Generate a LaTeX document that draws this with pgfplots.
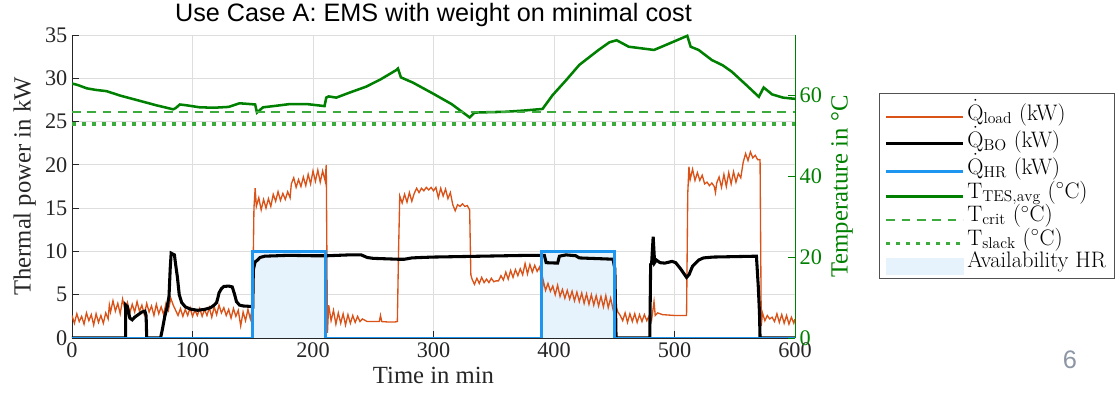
\documentclass[border=0pt]{standalone}
\usepackage{fontspec}
\usepackage{pgfplots}
\pgfplotsset{compat=1.18}
\newfontfamily\timesf{Liberation Serif}
\newfontfamily\arialf{Liberation Sans}
\definecolor{cload}{RGB}{217,83,25}
\definecolor{chr}{RGB}{30,150,240}
\definecolor{chrfill}{RGB}{230,242,252}
\definecolor{ctes}{RGB}{0,128,0}
\definecolor{clim}{RGB}{60,170,60}
\definecolor{caxis}{RGB}{38,38,38}
\definecolor{cgrid}{RGB}{222,222,222}
\definecolor{cnum}{RGB}{140,150,165}

\pgfplotstableread{
t q
0 2.6
2 1.7
4 2.8
6 1.9
8 2.5
10 1.6
12 2.9
14 2.0
16 2.7
18 1.5
20 2.8
22 1.8
24 2.6
26 1.7
28 2.9
30 2.2
31 3.8
32 3.0
34 4.3
36 3.1
38 4.0
40 2.8
42 4.5
44 3.2
46 4.1
48 2.9
50 3.9
52 3.0
54 4.2
56 3.1
58 3.8
60 2.7
62 4.0
64 3.0
66 3.7
68 2.6
70 3.9
72 2.8
74 3.6
76 2.7
78 4.0
80 3.2
82 4.6
84 3.8
86 3.2
88 2.6
90 3.4
92 2.5
94 3.3
96 2.6
98 3.5
100 2.5
102 3.2
104 2.6
106 3.4
108 2.5
110 3.3
112 2.6
114 3.5
116 2.4
118 3.6
120 2.7
122 3.8
124 2.9
126 3.5
128 2.6
130 3.3
132 2.3
134 3.4
136 2.5
138 3.2
140 1.4
142 3.0
144 2.0
146 3.3
148 2.2
149 3.0
150 5.0
151 15.0
152 17.3
153 15.2
155 16.2
157 14.8
159 16.0
161 15.0
163 16.1
165 15.2
167 16.6
169 15.8
171 16.9
173 15.9
175 16.7
177 16.0
179 16.9
181 16.2
182 17.8
184 18.5
186 17.4
188 18.3
190 17.5
192 18.6
194 17.6
196 18.9
198 17.8
200 19.3
202 18.1
204 19.4
206 18.0
208 19.3
210 18.2
211 20.0
212 0.6
213 3.8
215 2.0
217 3.2
219 1.6
221 2.9
223 1.7
225 2.8
227 1.5
229 2.7
231 1.7
233 2.6
235 1.8
237 2.5
239 1.9
241 2.2
245 1.9
250 1.9
255 1.9
256 2.6
257 1.9
262 1.85
268 1.85
270 1.9
271 10.0
272 16.4
274 15.6
276 16.6
278 15.7
280 16.8
282 15.8
284 16.7
286 17.3
288 16.8
290 17.3
292 17.0
294 17.4
296 17.1
298 17.4
300 17.0
302 17.4
304 16.2
306 17.3
308 16.4
310 17.2
312 16.1
314 16.8
316 15.4
318 14.7
320 15.4
322 15.2
324 15.5
326 15.2
328 15.3
330 14.8
331 7.3
332 6.8
334 6.2
336 6.9
338 6.3
340 7.0
342 6.4
344 6.8
346 6.4
348 6.9
350 6.5
352 6.6
354 6.6
356 7.2
358 6.7
360 7.6
362 6.8
364 7.8
366 7.0
368 7.9
370 7.2
372 8.0
374 7.3
376 8.6
378 7.4
380 8.5
382 7.6
384 8.4
386 7.7
388 8.2
389 7.5
390 5.0
391 6.7
393 5.5
395 6.3
397 5.4
399 6.0
401 5.0
403 6.1
405 4.8
407 5.6
409 4.6
411 5.5
413 4.5
415 5.4
417 4.3
419 5.3
421 4.2
423 5.2
425 4.0
427 5.1
429 3.9
431 5.0
433 3.8
435 4.9
437 3.7
439 4.8
441 3.6
443 4.9
445 3.5
447 4.6
449 3.3
451 3.9
453 3.0
455 2.6
457 2.0
459 2.9
461 1.8
463 2.8
465 1.9
467 2.8
469 1.8
471 2.7
473 1.9
475 2.7
477 2.0
479 2.6
481 2.1
483 4.2
484 2.6
486 2.9
490 2.7
495 2.65
500 2.6
505 2.6
510 2.6
511 16.7
512 19.8
513 18.3
515 19.5
517 18.2
519 19.1
521 18.2
523 18.8
525 17.8
527 18.0
529 17.6
531 17.9
533 17.5
534 16.8
535 17.9
537 18.6
539 17.4
541 18.9
543 17.5
545 19.1
547 17.8
549 19.2
551 18.0
553 19.0
555 18.5
557 20.3
559 21.3
561 20.5
563 21.5
565 20.8
567 21.1
569 20.6
571 20.6
572 1.4
573 2.9
575 2.0
577 2.6
579 2.2
581 2.4
583 1.9
585 2.8
587 1.8
589 2.7
591 1.7
593 2.6
595 1.6
597 2.4
599 1.7
600 2.2
}\loadtab

\pgfplotstableread{
t q
0 0
44.5 0
44.6 3.8
46 3.6
48 2.3
50 2.1
52 2.4
55 2.7
58 3.0
60.5 3.1
61.5 2.6
62 0
73.5 0
75 1.0
77 2.5
79 3.6
80.5 4.8
81.5 8.0
82.3 9.8
85 9.6
86 8.5
87.5 7.0
89 5.0
91 4.1
94 3.6
98 3.35
104 3.2
110 3.3
115 3.5
118 3.8
120 4.1
121 4.6
122 5.2
124 5.7
126 5.95
130 6.0
133 5.9
135 5.0
136.5 4.2
139 3.8
142 3.7
148 3.65
150 3.6
150.5 7.9
152 8.8
154 9.0
156 9.3
160 9.45
170 9.5
180 9.55
200 9.5
212 9.5
230 9.6
240 9.6
245 9.3
250 9.2
260 9.15
270 9.1
276 9.1
282 9.25
290 9.3
300 9.35
320 9.4
340 9.45
360 9.5
380 9.55
392 9.55
393.5 8.7
403 8.65
404.5 9.45
410 9.6
418 9.5
421 9.25
430 9.2
440 9.15
449 9.1
450.5 8.0
451.5 0
479.5 0
480.2 8.5
481 8.6
482.3 11.7
483.5 8.7
485 9.0
488 8.7
492 8.65
498 8.85
501 8.7
505 8.0
510 7.0
512 7.3
515 8.3
520 9.0
524 9.25
532 9.35
550 9.4
568 9.45
569.5 6.0
570.5 3.0
571 0
600 0
}\botab

\pgfplotstableread{
t T
0 63.0
5 62.6
12.2 61.8
20 61.4
28.7 61.1
40 60.0
56.3 58.7
70 57.6
84 56.6
86 56.9
89.5 57.8
95 57.6
106 57.1
118 57.0
130 57.2
139 58.1
148 57.9
152 57.8
153.5 55.8
158.5 57.1
170 57.5
180.6 57.9
195 57.9
209.6 57.4
211 59.5
213 59.8
219.3 59.5
230 60.7
244 62.2
256 64.0
269 66.3
270.5 66.7
273 64.5
283 63.2
299 60.6
315 57.9
330 54.6
334 55.8
360 56.0
375 56.3
390.5 56.7
398.8 60.1
410 63.8
421 67.6
437 71.3
446 73.2
452 73.7
462 72.1
483 71.3
491 72.3
510.6 74.8
513.4 72.1
520 71.3
531 68.8
540 67.5
547.6 65.9
560 62.5
570 59.7
574 62.0
581 60.3
590 59.5
600 59.2
}\testab

\begin{document}
\begin{tikzpicture}
\path[use as bounding box] (0,0) rectangle (837.75pt,299.25pt);
\begin{axis}[
 at={(54pt,45.75pt)}, anchor=south west,
 scale only axis, width=542.25pt, height=227.25pt,
 xmin=0, xmax=600, ymin=0, ymax=35,
 xtick={0,100,...,600}, ytick={0,5,...,35},
 axis x line*=bottom, axis y line*=left,
 axis line style={caxis, line width=0.6pt, -},
 tick align=inside, major tick length=5pt,
 tick style={caxis, line width=0.6pt},
 grid=major, major grid style={cgrid, line width=0.6pt},
 ticklabel style={font=\timesf\fontsize{16.7}{19}\selectfont, text=caxis},
 /pgf/number format/assume math mode=true,
 xlabel={Time in min}, ylabel={Thermal power in kW},
 label style={font=\timesf\fontsize{18.5}{21}\selectfont, text=caxis},
 title={Use Case A: EMS with weight on minimal cost},
 title style={font=\arialf\fontsize{18.9}{22}\selectfont, yshift=-3pt},
 legend cell align=left,
 legend style={at={(1.116,0.8086)}, anchor=north west, draw=caxis!80,
   font=\fontsize{16.8}{19}\selectfont, row sep=0pt, inner xsep=4pt, inner ysep=3pt,
   nodes={inner ysep=1.6pt}},
]
\addlegendimage{legend image code/.code={\draw[cload, line width=1.3pt] (0pt,-4.5pt) -- (57.5pt,-4.5pt);}}
\addlegendimage{legend image code/.code={\draw[black, line width=2.3pt] (0pt,-4.5pt) -- (57.5pt,-4.5pt);}}
\addlegendimage{legend image code/.code={\draw[chr, line width=2.2pt] (0pt,-4.5pt) -- (57.5pt,-4.5pt);}}
\addlegendimage{legend image code/.code={\draw[ctes, line width=1.9pt] (0pt,-4.5pt) -- (57.5pt,-4.5pt);}}
\addlegendimage{legend image code/.code={\draw[clim, line width=1.2pt, dash pattern=on 6.5pt off 5pt] (0pt,-4.5pt) -- (57.5pt,-4.5pt);}}
\addlegendimage{legend image code/.code={\draw[clim, line width=2.7pt, dash pattern=on 3pt off 4.5pt] (0pt,-4.5pt) -- (57.5pt,-4.5pt);}}
\addlegendimage{legend image code/.code={\fill[chrfill] (0pt,-10.5pt) rectangle (57.5pt,1.5pt);}}
\addplot[fill=chrfill, draw=none, forget plot] coordinates {(150,0) (150,10) (210,10) (210,0) (390,0) (390,10) (450,10) (450,0)} -- cycle;
\addplot[cload, line width=1.0pt, forget plot] table[x=t, y=q] {\loadtab};
\addplot[black, line width=2.3pt, forget plot] table[x=t, y=q] {\botab};
\addplot[chr, line width=2.2pt, forget plot] coordinates {(0,0) (150,0) (150,10) (210,10) (210,0) (390,0) (390,10) (450,10) (450,0) (600,0)};
\legend{$\dot{\mathrm{Q}}_{\mathrm{load}}$ (kW), $\dot{\mathrm{Q}}_{\mathrm{BO}}$ (kW), $\dot{\mathrm{Q}}_{\mathrm{HR}}$ (kW), $\mathrm{T}_{\mathrm{TES,avg}}$ $(^\circ$C$)$, $\mathrm{T}_{\mathrm{crit}}$ $(^\circ$C$)$, $\mathrm{T}_{\mathrm{slack}}$ $(^\circ$C$)$, Availability HR}
\end{axis}
\begin{axis}[
 at={(54pt,45.75pt)}, anchor=south west,
 scale only axis, width=542.25pt, height=227.25pt,
 xmin=0, xmax=600, ymin=0, ymax=75,
 ytick={0,20,40,60},
 axis x line=none, axis y line*=right,
 axis line style={ctes, line width=0.6pt, -},
 tick align=inside, major tick length=5pt,
 tick style={ctes, line width=0.6pt},
 yticklabel style={font=\timesf\fontsize{16.7}{19}\selectfont, text=ctes},
 /pgf/number format/assume math mode=true,
 ylabel={Temperature in °C},
 ylabel style={font=\timesf\fontsize{18.5}{21}\selectfont, text=ctes},
]
\addplot[ctes, line width=1.9pt] table[x=t, y=T] {\testab};
\addplot[clim, line width=1.2pt, dash pattern=on 6.5pt off 5pt] coordinates {(0,56) (600,56)};
\addplot[clim, line width=2.7pt, dash pattern=on 3pt off 4.5pt] coordinates {(0,53) (600,53)};
\end{axis}
\node[font=\arialf\fontsize{19}{22}\selectfont, text=cnum] at (802.5pt,29.25pt) {6};
\end{tikzpicture}
\end{document}
